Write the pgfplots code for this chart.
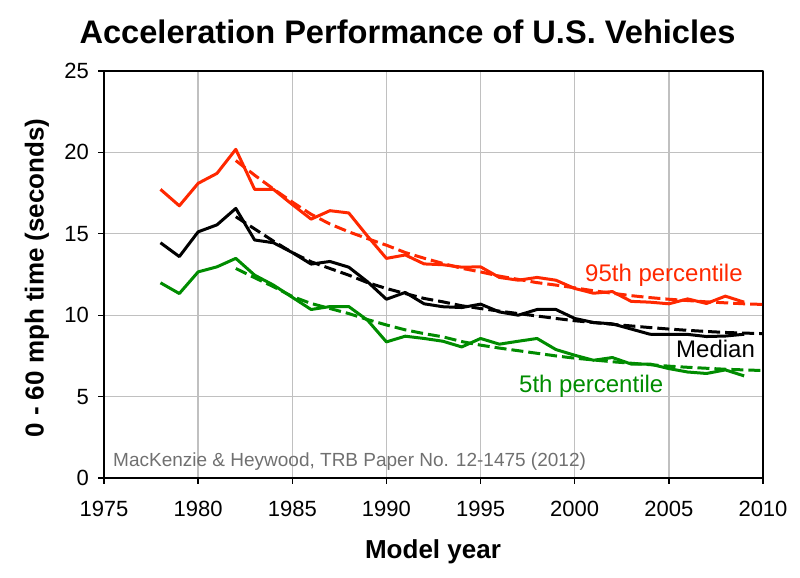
\documentclass[border=0pt]{standalone}
\usepackage{pgfplots}
\pgfplotsset{compat=1.18}
\usepackage{fontspec}
\setmainfont{Liberation Sans}
\definecolor{myred}{RGB}{255,40,0}
\definecolor{mygreen}{RGB}{0,140,0}
\definecolor{srcgray}{RGB}{112,112,112}
\definecolor{gridgray}{RGB}{192,192,192}
\begin{document}
\begin{tikzpicture}
\path[use as bounding box] (0,0) rectangle (800bp,578bp);
\begin{axis}[
 at={(104bp,100bp)}, anchor=south west,
 width=659bp, height=407bp, scale only axis,
 xmin=1975, xmax=2010, ymin=0, ymax=25,
 xtick={1975,1980,...,2010}, ytick={0,5,...,25},
 grid=major, major grid style={gridgray, line width=1.3bp},
 axis line style={black, line width=1.3bp},
 tick style={black, line width=1.3bp},
 tick align=outside, major tick length=6bp,
 xtick pos=left, ytick pos=left,
 /pgf/number format/assume math mode=true,
 /pgf/number format/1000 sep={},
 ticklabel style={font=\fontsize{22bp}{22bp}\selectfont},
 xticklabel style={anchor=north, inner sep=0pt, yshift=-17bp},
 yticklabel style={anchor=east, inner sep=0pt, xshift=-9bp},
 line join=round,
]
\addplot[myred, line width=3bp] coordinates {
(1978,17.73) (1979,16.72) (1980,18.1) (1981,18.71) (1982,20.19) (1983,17.73)
(1984,17.73) (1985,16.8) (1986,15.9) (1987,16.42) (1988,16.28) (1989,14.85)
(1990,13.49) (1991,13.7) (1992,13.15) (1993,13.1) (1994,12.95) (1995,12.97)
(1996,12.32) (1997,12.15) (1998,12.32) (1999,12.15) (2000,11.64) (2001,11.35)
(2002,11.45) (2003,10.85) (2004,10.8) (2005,10.7) (2006,11.0) (2007,10.72)
(2008,11.17) (2009,10.8)};
\addplot[myred, line width=3bp, dash pattern=on 12bp off 5bp] coordinates {
(1982,19.5) (1983,18.6) (1984,17.75) (1985,16.95) (1986,16.2) (1987,15.6)
(1988,15.12) (1989,14.7) (1990,14.3) (1991,13.85) (1992,13.5) (1993,13.18)
(1994,12.88) (1995,12.66) (1996,12.4) (1997,12.2) (1998,12.0) (1999,11.85)
(2000,11.68) (2001,11.5) (2002,11.35) (2003,11.2) (2004,11.08) (2005,10.98)
(2006,10.9) (2007,10.82) (2008,10.76) (2009,10.7) (2010,10.66)};
\addplot[black, line width=3bp] coordinates {
(1978,14.45) (1979,13.6) (1980,15.12) (1981,15.55) (1982,16.56) (1983,14.62)
(1984,14.45) (1985,13.85) (1986,13.14) (1987,13.3) (1988,12.95) (1989,12.05)
(1990,10.98) (1991,11.4) (1992,10.7) (1993,10.52) (1994,10.47) (1995,10.68)
(1996,10.2) (1997,10.0) (1998,10.35) (1999,10.35) (2000,9.8) (2001,9.55)
(2002,9.47) (2003,9.15) (2004,8.83) (2005,8.82) (2006,8.82) (2007,8.69)
(2008,8.72) (2009,8.83)};
\addplot[black, line width=3bp, dash pattern=on 12bp off 5bp] coordinates {
(1982,16.05) (1983,15.3) (1984,14.55) (1985,13.85) (1986,13.28) (1987,12.87)
(1988,12.46) (1989,12.0) (1990,11.64) (1991,11.33) (1992,11.03) (1993,10.82)
(1994,10.58) (1995,10.41) (1996,10.25) (1997,10.1) (1998,9.95) (1999,9.8)
(2000,9.66) (2001,9.55) (2002,9.44) (2003,9.34) (2004,9.24) (2005,9.15)
(2006,9.07) (2007,9.0) (2008,8.94) (2009,8.9) (2010,8.87)};
\addplot[mygreen, line width=3bp] coordinates {
(1978,11.99) (1979,11.33) (1980,12.66) (1981,12.97) (1982,13.49) (1983,12.46)
(1984,11.85) (1985,11.1) (1986,10.35) (1987,10.53) (1988,10.53) (1989,9.69)
(1990,8.36) (1991,8.71) (1992,8.57) (1993,8.4) (1994,8.05) (1995,8.57)
(1996,8.22) (1997,8.4) (1998,8.57) (1999,7.89) (2000,7.54) (2001,7.23)
(2002,7.4) (2003,7.0) (2004,7.0) (2005,6.72) (2006,6.51) (2007,6.42)
(2008,6.64) (2009,6.27)};
\addplot[mygreen, line width=3bp, dash pattern=on 12bp off 5bp] coordinates {
(1982,12.87) (1983,12.3) (1984,11.75) (1985,11.15) (1986,10.72) (1987,10.41)
(1988,10.1) (1989,9.73) (1990,9.4) (1991,9.1) (1992,8.87) (1993,8.67)
(1994,8.38) (1995,8.16) (1996,7.98) (1997,7.82) (1998,7.66) (1999,7.5)
(2000,7.36) (2001,7.25) (2002,7.14) (2003,7.05) (2004,6.96) (2005,6.87)
(2006,6.8) (2007,6.74) (2008,6.68) (2009,6.64) (2010,6.6)};
\end{axis}
\node[anchor=base, inner sep=0pt, font=\fontsize{32.6bp}{32.6bp}\selectfont\bfseries] at (407.5bp,534bp) {Acceleration Performance of U.S. Vehicles};
\node[anchor=base, inner sep=0pt, font=\fontsize{26bp}{26bp}\selectfont\bfseries] at (433bp,20bp) {Model year};
\node[rotate=90, anchor=base, inner sep=0pt, font=\fontsize{26bp}{26bp}\selectfont\bfseries] at (43.5bp,300bp) {0 - 60 mph time (seconds)};
\node[anchor=base west, inner sep=0pt, text=srcgray, font=\fontsize{19bp}{19bp}\selectfont] at (113bp,111bp) {MacKenzie \& Heywood, TRB Paper No. 12-1475 (2012)};
\node[anchor=base west, inner sep=0pt, text=myred, font=\fontsize{24bp}{24bp}\selectfont] at (585bp,296bp) {95th percentile};
\node[anchor=base west, inner sep=0pt, text=black, font=\fontsize{24bp}{24bp}\selectfont] at (676bp,220bp) {Median};
\node[anchor=base west, inner sep=0pt, text=mygreen, font=\fontsize{24bp}{24bp}\selectfont] at (519bp,185bp) {5th percentile};
\end{tikzpicture}
\end{document}
